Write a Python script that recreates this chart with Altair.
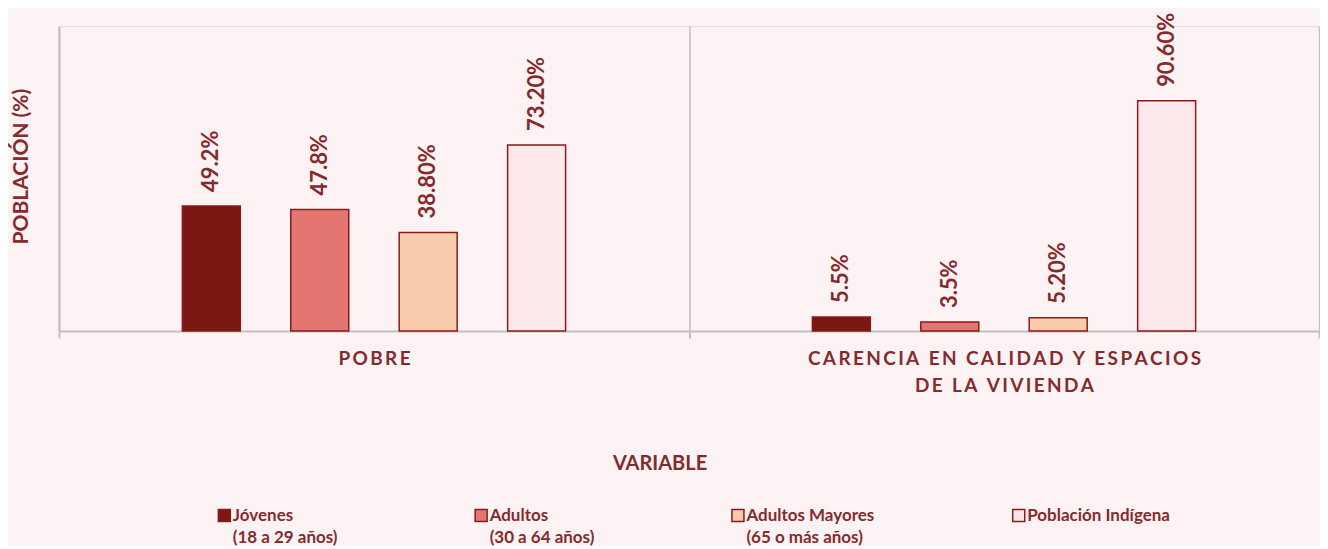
import altair as alt
import pandas as pd

categories = ["POBRE", "CARENCIA EN CALIDAD Y ESPACIOS\nDE LA VIVIENDA"]
groups = [
    "Jóvenes\n(18 a 29 años)",
    "Adultos\n(30 a 64 años)",
    "Adultos Mayores\n(65 o más años)",
    "Población Indígena",
]
values_pobre = [49.2, 47.8, 38.8, 73.2]
values_carencia = [5.5, 3.5, 5.2, 90.6]
labels_pobre = ["49.2%", "47.8%", "38.80%", "73.20%"]
labels_carencia = ["5.5%", "3.5%", "5.20%", "90.60%"]
colors = ["#7B1711", "#E47672", "#F8CBAD", "#FDE9EC"]

rows = []
for cat, vals, labs in [(categories[0], values_pobre, labels_pobre),
                        (categories[1], values_carencia, labels_carencia)]:
    for g, v, l in zip(groups, vals, labs):
        rows.append({"variable": cat, "grupo": g, "valor": v, "etiqueta": l})
df = pd.DataFrame(rows)

TXT = "#862A2E"
GRAY = "#C3BFBF"
FONT = "Lato"
SP = "\u2009"

x_enc = alt.X(
    "variable:N",
    sort=categories,
    scale=alt.Scale(paddingInner=0, paddingOuter=0),
    axis=alt.Axis(
        title="VARIABLE",
        titleFont=FONT, titleFontSize=20, titleFontWeight="bold", titleColor=TXT,
        titleX=601, titleY=133, titleBaseline="middle",
        labelAngle=0, labelFont=FONT, labelFontSize=19, labelFontWeight="bold",
        labelColor=TXT,
        labelExpr=f"split(join(split(datum.label, ''), '{SP}'), '{SP}\\n{SP}')",
        labelLineHeight=27,
        labelBaseline="top", labelPadding=12, labelLimit=0,
        domainColor=GRAY, domainWidth=2,
        ticks=True, tickColor=GRAY, tickSize=7, tickWidth=2, tickBand="extent",
        grid=True, gridColor=GRAY, gridWidth=1.5,
    ),
)
xoff_enc = alt.XOffset(
    "grupo:N",
    scale=alt.Scale(domain=["_a"] + groups + ["_b"], paddingInner=0.4654, paddingOuter=0.138),
)
y_enc = alt.Y(
    "valor:Q",
    scale=alt.Scale(domain=[0, 120], nice=False),
    axis=alt.Axis(
        labels=False, ticks=False, grid=False,
        domainColor=GRAY, domainWidth=2,
        title="POBLACIÓN (%)", titleFont=FONT, titleFontSize=21, titleFontWeight="bold",
        titleColor=TXT, titleX=-37, titleY=140, titleAngle=270,
        titleBaseline="middle", titleAlign="center",
    ),
)

base = alt.Chart(df).encode(x=x_enc, xOffset=xoff_enc, y=y_enc)

bars = base.mark_bar(stroke="#8B1A1A", strokeWidth=1.5).encode(
    color=alt.Color(
        "grupo:N",
        scale=alt.Scale(domain=groups, range=colors),
        legend=alt.Legend(
            title=None, orient="none", legendX=157, legendY=481,
            direction="horizontal", columns=4, columnPadding=134,
            symbolType="square", symbolSize=144,
            symbolStrokeColor="#8B1A1A", symbolStrokeWidth=1.5,
            labelFont=FONT, labelFontSize=17, labelFontWeight="bold",
            labelColor=TXT, labelOffset=0, labelLimit=0,
            labelExpr="length(split(datum.label, '\\n')) > 1 ? split(datum.label, '\\n') : [datum.label, '']",
            labelBaseline="middle",
        ),
    )
)

text = base.mark_text(
    angle=270, align="left", baseline="middle", dx=14,
    font=FONT, fontSize=22, fontWeight="bold", color=TXT,
).encode(text="etiqueta:N")

chart = (
    alt.layer(bars, text)
    .properties(width=1261, height=305, padding={"left": 3, "top": 4, "right": 0, "bottom": 0},
                background="#FDF3F4")
    .configure_view(stroke=None)
    .configure(style={"guide-label": {"lineHeight": 22}})
)

chart.save("out.html", embed_options={"renderer": "svg", "actions": False})
